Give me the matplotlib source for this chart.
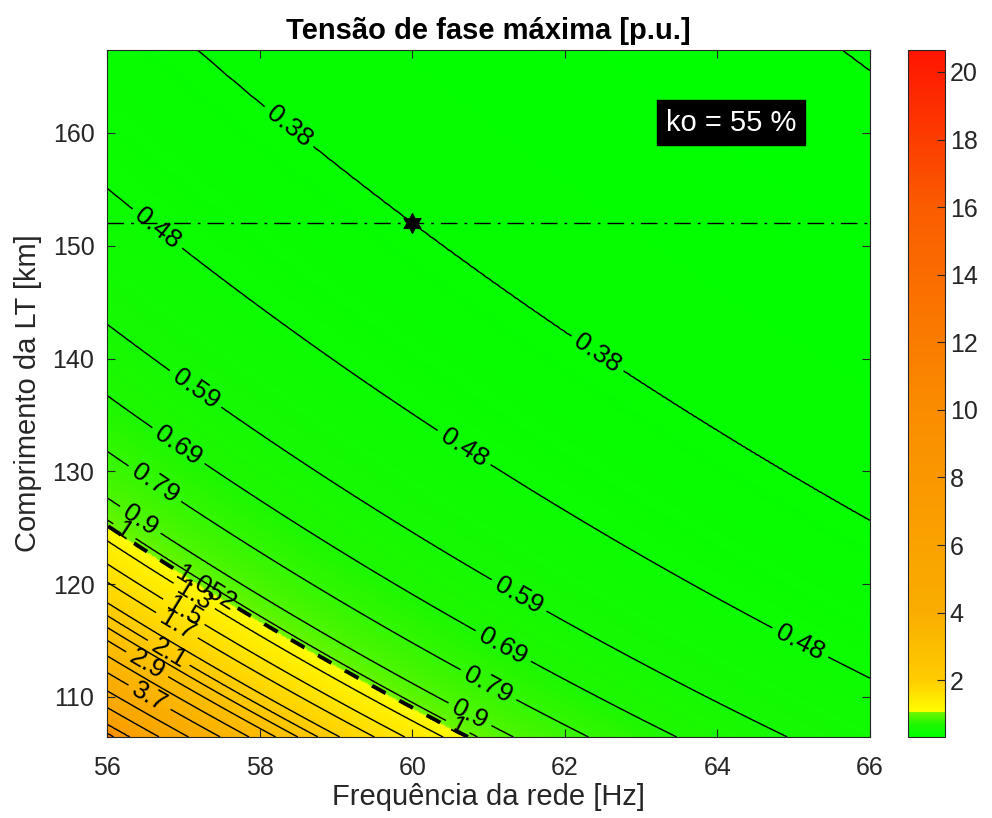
import numpy as np
import matplotlib
matplotlib.use('Agg')
import matplotlib.pyplot as plt
from matplotlib.colors import LinearSegmentedColormap, Normalize
from matplotlib.path import Path

plt.rcParams['font.family'] = ['Liberation Sans', 'DejaVu Sans']

# axis ranges
freq_range = (56.0, 66.0)
length_range = (106.45, 167.35)

# where each contour crosses f = 60 Hz (length in km), and its value in p.u.
length_at_60hz = [92.6, 93.0, 93.7, 95.0, 96.3, 97.7, 99.0, 100.2, 101.2, 102.1,
                  103.1, 104.7, 106.1, 107.9, 109.05, 109.5, 111.2, 114.8, 119.1,
                  124.6, 135.1, 152.0, 200.3, 202.8]
vmax_pu = [20.5, 10.1, 6.9, 5.3, 4.5, 3.7, 3.3, 2.9, 2.5, 2.1,
           1.9, 1.7, 1.5, 1.3, 1.052, 1.0, 0.9, 0.79, 0.69,
           0.59, 0.48, 0.38, 0.33, 0.32]

plain_levels = [0.33, 1.9, 2.5, 3.3, 4.5, 5.3, 6.9, 10.1]
limit_level = 1.052

# labelled levels with the spots where their labels sit
labelled = {
    0.38: [(58.4, 160.7), (62.5, 141.2)],
    0.48: [(56.6, 151.0), (60.7, 132.3), (65.1, 115.0)],
    0.59: [(57.15, 137.2), (61.4, 119.0)],
    0.69: [(56.9, 131.9), (61.2, 114.6)],
    0.79: [(56.6, 128.6), (61.0, 111.1)],
    0.9: [(56.47, 126.1), (60.8, 108.9)],
    1.0: [(56.24, 124.8), (60.6, 107.4)],
    1.3: [(57.0, 117.1)],
    1.5: [(56.87, 115.9)],
    1.7: [(56.8, 115.0)],
    2.1: [(56.75, 113.3)],
    2.9: [(56.6, 113.7)],
    3.7: [(56.56, 110.0)],
}
limit_label = [(57.28, 119.5)]

op_freq = 60.0
op_length = 152.0
ko_text = 'ko = 55 %'

x_ticks = [56, 58, 60, 62, 64, 66]
y_ticks = [110, 120, 130, 140, 150, 160]
cbar_ticks = [2, 4, 6, 8, 10, 12, 14, 16, 18, 20]
clim = (0.32, 20.65)

# field on a grid: value depends on L*(f/60)^2
f = np.linspace(*freq_range, 500)
L = np.linspace(*length_range, 500)
F, LL = np.meshgrid(f, L)
L_eq = LL * (F / 60.0) ** 2
Z = np.interp(L_eq, length_at_60hz, vmax_pu)

# colormap: green below the limit, then yellow -> orange -> red
vlo, vhi = clim
nodes = [(0.32, (0.0, 1.0, 0.0)),
         (0.7, (0.12, 0.97, 0.0)),
         (1.051, (0.45, 0.96, 0.0)),
         (1.053, (1.0, 1.0, 0.0)),
         (2.0, (1.0, 0.80, 0.0)),
         (4.0, (0.98, 0.68, 0.0)),
         (10.0, (0.98, 0.55, 0.0)),
         (16.0, (0.98, 0.36, 0.0)),
         (20.65, (1.0, 0.08, 0.0))]
cmap = LinearSegmentedColormap.from_list(
    'tensao', [((v - vlo) / (vhi - vlo), c) for v, c in nodes], N=4096)
norm = Normalize(vlo, vhi)

fig = plt.figure(figsize=(9.92, 8.18), dpi=100)
ax = fig.add_axes([107 / 992, 81 / 818, 763 / 992, 687 / 818])
cax = fig.add_axes([908 / 992, 81 / 818, 37 / 992, 687 / 818])

im = ax.pcolormesh(F, LL, Z, cmap=cmap, norm=norm, shading='gouraud')

ax.contour(F, LL, Z, levels=plain_levels, colors='k', linewidths=1.0)
for lvl, spots in labelled.items():
    cs = ax.contour(F, LL, Z, levels=[lvl], colors='k', linewidths=1.0)
    ax.clabel(cs, fmt=lambda v: f'{v:g}', fontsize=19, inline=True,
              inline_spacing=6, manual=spots)

cs2 = ax.contour(F, LL, Z, levels=[limit_level], colors='k', linewidths=2.8,
                 linestyles='--')
cs2.set_dashes([(0, (4, 4))])
ax.clabel(cs2, fmt=lambda v: f'{v:g}', fontsize=19, inline=True,
          manual=limit_label)

ax.axhline(op_length, color='k', lw=1.0, ls='-.', dashes=(12, 5, 2, 5))
star = Path.unit_regular_star(6, 0.55)
ax.plot(op_freq, op_length, marker=star, color='k', ms=14, zorder=5)

ax.text(64.18, 160.9, ko_text, color='white', fontsize=21, ha='center',
        va='center', bbox=dict(facecolor='black', edgecolor='black', pad=6))

ax.set_xlim(*freq_range)
ax.set_ylim(*length_range)
ax.set_xticks(x_ticks)
ax.set_yticks(y_ticks)
ax.tick_params(direction='in', top=True, right=True, labelsize=18,
               colors='#262626', length=6)
ax.tick_params(axis='x', pad=14)
ax.tick_params(axis='y', pad=9)
for s in ax.spines.values():
    s.set_color('#262626')
ax.set_xlabel('Frequência da rede [Hz]', fontsize=21, color='#262626',
              labelpad=2)
ax.set_ylabel('Comprimento da LT [km]', fontsize=21, color='#262626',
              labelpad=8)
ax.set_title('Tensão de fase máxima [p.u.]', fontsize=21, fontweight='bold',
             pad=8)

cb = fig.colorbar(im, cax=cax, ticks=cbar_ticks)
cb.outline.set_edgecolor('#262626')
cax.tick_params(direction='in', labelsize=18, colors='#262626', length=6)

fig.savefig('out.png', dpi=100)
